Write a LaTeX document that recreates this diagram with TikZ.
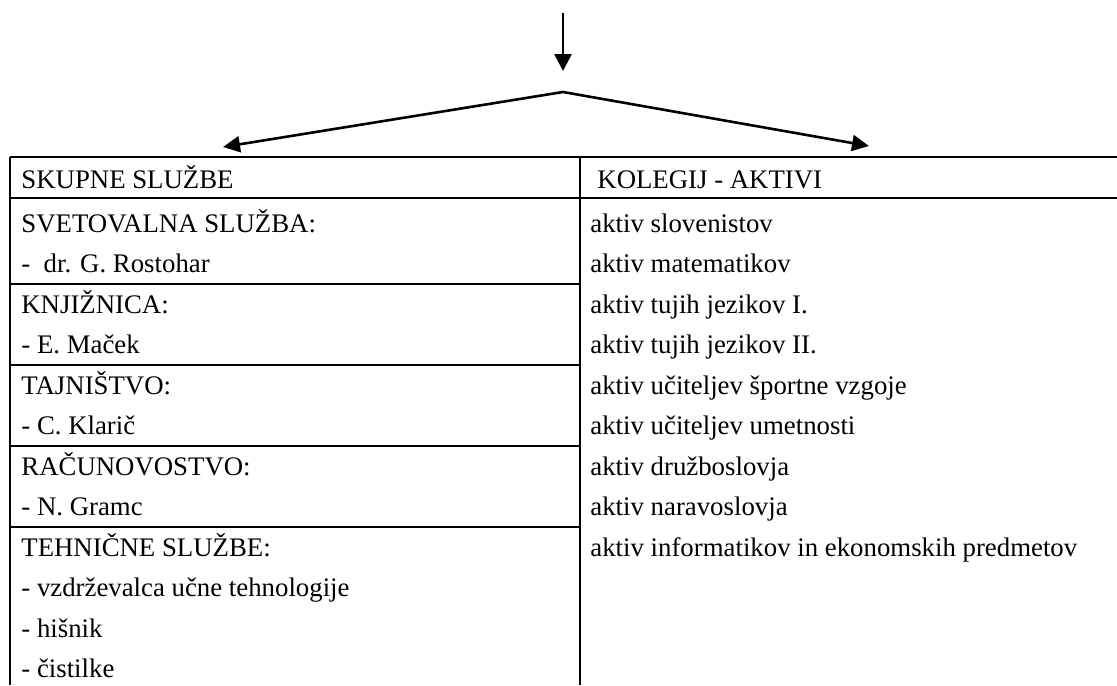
\documentclass[tikz,border=0pt]{standalone}
\usepackage{fontspec}
\setmainfont{Liberation Serif}
\usetikzlibrary{arrows.meta}

\tikzset{
  flow/.style={line width=1.3pt, -{Triangle[length=8.5pt,width=8.5pt]}},
  fork/.style={line width=1.3pt, {Triangle[length=8.5pt,width=8pt]}-{Triangle[length=8.5pt,width=8pt]}},
  rule/.style={line width=1pt},
  cell/.style={anchor=base west, inner sep=0pt, font=\fontsize{13.4}{15}\selectfont},
}

\begin{document}
\begin{tikzpicture}[x=0.5pt,y=-0.5pt]
    \useasboundingbox (0,0) rectangle (1117,685);

    % Arrows
    \coordinate (src) at (563,13);
    \coordinate (tip) at (563,71);
    \coordinate (split) at (563,92);
    \coordinate (lefttip) at (223,147);
    \coordinate (righttip) at (869,146);
    \draw[flow] (src) -- (tip);
    \draw[fork] (lefttip) -- (split) -- (righttip);

    % Table frame
    \draw[rule] (10,157) -- (1117,157);
    \draw[rule] (10,198) -- (1117,198);
    \draw[rule] (10,157) -- (10,685);
    \draw[rule] (580,157) -- (580,685);

    % Group lines, left column
    \draw[rule] (10,284) -- (580,284);
    \draw[rule] (10,365) -- (580,365);
    \draw[rule] (10,446) -- (580,446);
    \draw[rule] (10,527) -- (580,527);

    % Headers
    \node[cell] (skupne) at (21,188) {SKUPNE SLUŽBE};
    \node[cell] (kolegij) at (597,188) {KOLEGIJ - AKTIVI};

    % Left column
    \node[cell] (svet) at (21,232) {SVETOVALNA SLUŽBA:};
    \node[cell] (svetime) at (21,272.5) {- \ dr. G. Rostohar};
    \node[cell] (knj) at (21,313) {KNJIŽNICA:};
    \node[cell] (knjime) at (21,353.5) {- E. Maček};
    \node[cell] (taj) at (21,394) {TAJNIŠTVO:};
    \node[cell] (tajime) at (21,434.5) {- C. Klarič};
    \node[cell] (rac) at (21,475) {RAČUNOVOSTVO:};
    \node[cell] (racime) at (21,515.5) {- N. Gramc};
    \node[cell] (teh) at (21,556) {TEHNIČNE SLUŽBE:};
    \node[cell] (tehvzd) at (21,596.5) {- vzdrževalca učne tehnologije};
    \node[cell] (tehhis) at (21,637) {- hišnik};
    \node[cell] (tehcis) at (21,677.5) {- čistilke};

    % Right column
    \node[cell] (slo) at (590,232) {aktiv slovenistov};
    \node[cell] (mat) at (590,272.5) {aktiv matematikov};
    \node[cell] (tuj1) at (590,313) {aktiv tujih jezikov I.};
    \node[cell] (tuj2) at (590,353.5) {aktiv tujih jezikov II.};
    \node[cell] (spo) at (590,394) {aktiv učiteljev športne vzgoje};
    \node[cell] (ume) at (590,434.5) {aktiv učiteljev umetnosti};
    \node[cell] (dru) at (590,475) {aktiv družboslovja};
    \node[cell] (nar) at (590,515.5) {aktiv naravoslovja};
    \node[cell] (inf) at (590,556) {aktiv informatikov in ekonomskih predmetov};
\end{tikzpicture}
\end{document}
